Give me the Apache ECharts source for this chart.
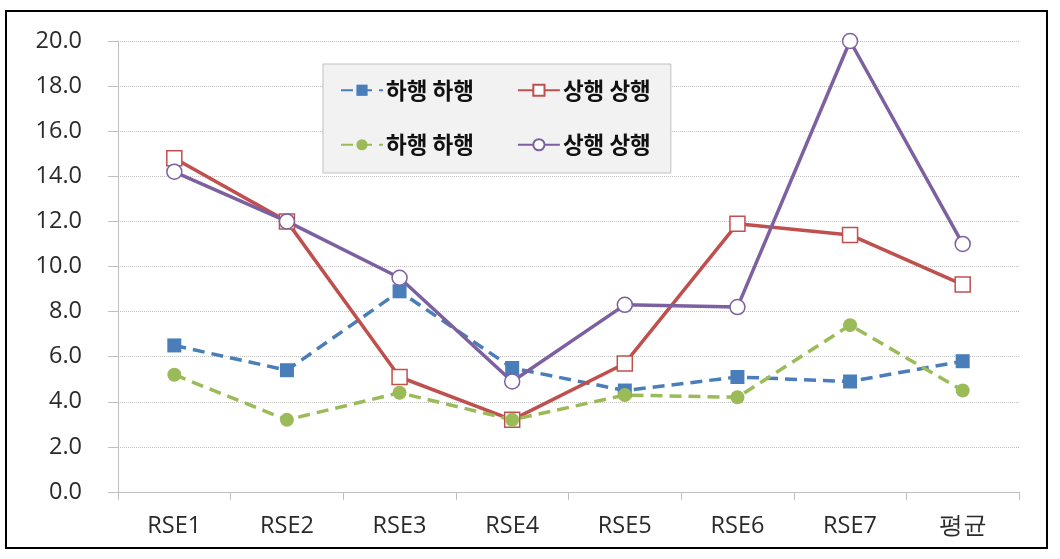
<!DOCTYPE html>
<html>
<head>
<meta charset="utf-8">
<script src="https://cdn.jsdelivr.net/npm/echarts@6/dist/echarts.min.js"></script>
<style>
html,body{margin:0;padding:0;background:#fff;}
#chart{width:1060px;height:559px;}
</style>
</head>
<body>
<div id="chart"></div>
<script>
const categories = ['RSE1','RSE2','RSE3','RSE4','RSE5','RSE6','RSE7','평균'];
const seriesNames = ['하행 하행','상행 상행','하행 하행','상행 상행'];
const down1 = [6.5, 5.4, 8.9, 5.5, 4.5, 5.1, 4.9, 5.8];
const up1   = [14.8, 12.0, 5.1, 3.2, 5.7, 11.9, 11.4, 9.2];
const down2 = [5.2, 3.2, 4.4, 3.2, 4.3, 4.2, 7.4, 4.5];
const up2   = [14.2, 12.0, 9.5, 4.9, 8.3, 8.2, 20.0, 11.0];
const yTickLabels = ['0.0','2.0','4.0','6.0','8.0','10.0','12.0','14.0','16.0','18.0','20.0'];

const ids = ['s0','s1','s2','s3'];
const chart = echarts.init(document.getElementById('chart'));
chart.setOption({
  animation: false,
  backgroundColor: '#fff',
  graphic: [{
    type: 'rect', silent: true, z: -1,
    shape: {x: 6, y: 11, width: 1041, height: 537},
    style: {fill: 'none', stroke: '#000', lineWidth: 2}
  }],
  grid: {left: 118, right: 41, top: 41, bottom: 67},
  legend: {
    left: 323, top: 64, width: 400,
    orient: 'horizontal',
    padding: [15, 9, 17, 17],
    itemGap: 32,
    itemWidth: 42, itemHeight: 14,
    backgroundColor: '#f2f2f2',
    borderColor: '#bfbfbf', borderWidth: 1,
    data: ids,
    formatter: function (n) { return seriesNames[ids.indexOf(n)]; },
    textStyle: {fontFamily: 'Noto Sans CJK KR', fontSize: 22.5, fontWeight: 'bold', color: '#111', lineHeight: 19, padding: [0, 11, 0, -2]}
  },
  xAxis: {
    type: 'category', data: categories, boundaryGap: true,
    axisLine: {lineStyle: {color: '#bfbfbf', width: 1}},
    axisTick: {show: true, length: 8, lineStyle: {color: '#bfbfbf'}},
    axisLabel: {margin: 22, fontFamily: 'Open Sans', fontSize: 23.5, color: '#2a2a2a'}
  },
  yAxis: {
    type: 'value', min: 0, max: 20, interval: 2,
    axisLine: {show: true, lineStyle: {color: '#bfbfbf', width: 1}},
    axisTick: {show: true, length: 10, lineStyle: {color: '#bfbfbf'}},
    axisLabel: {margin: 36, fontFamily: 'Open Sans', fontSize: 23.5, color: '#2a2a2a',
      formatter: function (v) { return yTickLabels[Math.round(v / 2)]; }},
    splitLine: {show: true, lineStyle: {color: '#bfbfbf', type: 'dotted', width: 1}}
  },
  series: [
    {name: 's0', type: 'line', data: down1, symbol: 'rect', symbolSize: 14,
     lineStyle: {color: '#4a7ebb', width: 3.5, type: [12, 7]},
     itemStyle: {color: '#4a7ebb'}},
    {name: 's1', type: 'line', data: up1, symbol: 'rect', symbolSize: 15,
     lineStyle: {color: '#c0504d', width: 3.5},
     itemStyle: {color: '#fff', borderColor: '#c0504d', borderWidth: 1.5}},
    {name: 's2', type: 'line', data: down2, symbol: 'circle', symbolSize: 14,
     lineStyle: {color: '#9bbb59', width: 3.5, type: [12, 7]},
     itemStyle: {color: '#9bbb59'}},
    {name: 's3', type: 'line', data: up2, symbol: 'circle', symbolSize: 15,
     lineStyle: {color: '#7d60a0', width: 3.5},
     itemStyle: {color: '#fff', borderColor: '#7d60a0', borderWidth: 1.5}}
  ]
});
</script>
</body>
</html>
